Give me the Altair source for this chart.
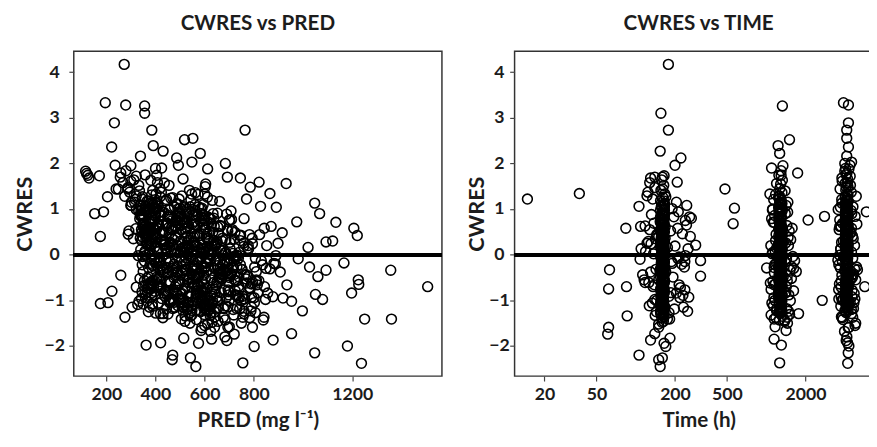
import altair as alt
import pandas as pd

# ---------------- observations read off the picture ----------------
# column at TIME ~ 160 h (with its side scatter)
a_cwres = [
    1.64, 1.52, 1.41, 1.33, 1.26, 1.18, 1.12, 1.05, 0.97, 0.91,
    0.85, 0.78, 0.72, 0.66, 0.61, 0.55, 0.49, 0.43, 0.38, 0.32,
    0.27, 0.21, 0.15, 0.10, 0.04, -0.02, -0.07, -0.13, -0.18, -0.24,
    -0.29, -0.35, -0.40, -0.46, -0.52, -0.57, -0.63, -0.69, -0.74, -0.80,
    -0.86, -0.91, -0.97, -1.03, -1.09, -1.15, -1.22, -1.29, -1.37, -1.46,
    1.47, 1.22, 1.01, 0.83, 0.69, 0.52, 0.35, 0.19, 0.02, -0.15,
    -0.32, -0.49, -0.66, -0.83, -1.00, -1.19, -1.33, 1.58, 1.15, 0.88,
    0.58, 0.29, -0.05, -0.38, -0.72, -1.06, -1.41, 1.37, 0.94, 0.46,
    0.07, -0.27, -0.61, -0.94, -1.25, 1.29, 0.75, 0.24, -0.21, -0.55,
    -0.89, -1.12, 1.08, 0.63, 0.13, -0.44, -0.77, -1.52, 0.40, -0.10,
    1.70, 1.44, 0.99, 0.57, 0.16, -0.35, -0.68, -1.01, -1.32, -1.48,
]
a_time = [
    158, 164, 156, 167, 161, 155, 166, 157, 163, 159,
    162, 165, 154, 159, 168, 155, 163, 160, 163, 157,
    164, 156, 160, 166, 158, 165, 156, 162, 157, 161,
    167, 154, 164, 159, 162, 166, 157, 159, 165, 156,
    164, 156, 163, 158, 160, 167, 155, 164, 158, 163,
    140, 135, 190, 196, 138, 185, 142, 200, 137, 188,
    143, 193, 139, 186, 145, 198, 141, 128, 205, 132,
    210, 125, 215, 130, 220, 134, 182, 124, 212, 228,
    119, 236, 126, 218, 144, 122, 240, 131, 225, 116,
    230, 127, 246, 118, 252, 113, 238, 150, 262, 108,
    160, 161, 165, 157, 163, 158, 162, 156, 164, 159,
]
a_pred = [
    312, 455, 538, 402, 611, 367, 489, 575, 341, 652,
    423, 508, 386, 597, 350, 470, 633, 398, 544, 361,
    702, 436, 519, 378, 588, 330, 481, 645, 412, 556,
    372, 690, 448, 527, 603, 355, 495, 738, 419, 566,
    640, 384, 512, 463, 595, 305, 548, 431, 676, 520,
    288, 346, 399, 458, 520, 382, 610, 560, 442, 679,
    752, 405, 573, 816, 470, 533, 622, 268, 315, 338,
    365, 427, 588, 662, 783, 411, 505, 295, 376, 352,
    407, 716, 538, 801, 583, 322, 393, 364, 475, 625,
    727, 598, 301, 360, 444, 770, 695, 612, 389, 567,
    257, 240, 357, 320, 396, 510, 560, 655, 548, 630,
]

# column at TIME ~ 1300 h
b_cwres = [
    1.45, 1.36, 1.27, 1.19, 1.11, 1.04, 0.96, 0.89, 0.82, 0.75,
    0.68, 0.62, 0.55, 0.49, 0.42, 0.36, 0.30, 0.23, 0.17, 0.11,
    0.05, -0.01, -0.07, -0.13, -0.19, -0.25, -0.31, -0.37, -0.43, -0.49,
    -0.55, -0.61, -0.67, -0.73, -0.79, -0.85, -0.91, -0.97, -1.03, -1.09,
    -1.15, -1.21, -1.28, -1.35, -1.43, 1.32, 1.08, 0.86, 0.64, 0.45,
    0.26, 0.08, -0.10, -0.28, -0.46, -0.64, -0.82, -1.00, -1.18, -1.38,
    1.55, 1.21, 0.93, 0.71, 0.38, 0.14, -0.16, -0.40, -0.70, -0.94,
    -1.24, 1.63, 1.00, 0.52, 0.02, -0.34, -0.58, -0.88, -1.12, -1.50,
    1.74, 1.40, 0.79, 0.33, -0.22, -0.52, -1.06, -1.31, 0.58, -0.76,
    1.84, 1.15, 0.20, -0.04, -0.62, -1.46, -1.58, -1.66, 0.98, -0.30,
]
b_time = [
    1270, 1320, 1250, 1305, 1290, 1245, 1325, 1260, 1310, 1255,
    1300, 1280, 1248, 1318, 1295, 1262, 1315, 1242, 1308, 1275,
    1298, 1252, 1322, 1265, 1292, 1246, 1312, 1258, 1302, 1285,
    1250, 1316, 1288, 1256, 1306, 1244, 1320, 1268, 1296, 1254,
    1304, 1282, 1266, 1328, 1262, 1180, 1420, 1160, 1440, 1190,
    1410, 1170, 1430, 1150, 1450, 1175, 1415, 1165, 1435, 1185,
    1290, 1140, 1460, 1130, 1470, 1200, 1400, 1155, 1425, 1145,
    1480, 1330, 1120, 1500, 1110, 1520, 1125, 1490, 1135, 1455,
    1250, 1395, 1100, 1540, 1160, 1560, 1105, 1510, 1580, 1090,
    1300, 1465, 1085, 1600, 1075, 1385, 1170, 1420, 1115, 1620,
]
b_pred = [
    418, 562, 347, 631, 485, 393, 707, 529, 452, 598,
    376, 664, 503, 431, 580, 338, 617, 471, 547, 409,
    686, 362, 524, 443, 605, 392, 568, 487, 721, 415,
    535, 461, 648, 371, 593, 507, 439, 762, 552, 328,
    476, 618, 401, 542, 683, 573, 300, 452, 663, 289,
    531, 358, 614, 446, 695, 497, 367, 585, 730, 430,
    604, 318, 434, 528, 349, 590, 458, 657, 413, 741,
    582, 381, 491, 292, 626, 523, 808, 398, 685, 540,
    405, 335, 760, 474, 673, 337, 514, 598, 842, 600,
    280, 302, 566, 718, 388, 654, 700, 585, 370, 849,
]

# column at TIME ~ 4100 h
c_cwres = [
    1.75, 1.66, 1.57, 1.49, 1.41, 1.33, 1.25, 1.17, 1.09, 1.01,
    0.94, 0.87, 0.80, 0.73, 0.66, 0.59, 0.52, 0.45, 0.38, 0.31,
    0.24, 0.17, 0.10, 0.03, -0.04, -0.11, -0.18, -0.25, -0.32, -0.39,
    -0.46, -0.53, -0.60, -0.67, -0.74, -0.81, -0.88, -0.95, -1.02, -1.09,
    -1.16, -1.24, 1.61, 1.37, 1.13, 0.90, 0.69, 0.48, 0.27, 0.06,
    -0.15, -0.36, -0.57, -0.78, -0.99, -1.20, 1.52, 1.21, 0.97, 0.62,
    0.41, 0.13, -0.08, -0.29, -0.50, -0.71, -0.92, -1.13, -1.29, 1.44,
    1.05, 0.76, 0.35, -0.01, -0.42, -0.64, -1.05, -1.60, -1.68, -1.80,
    1.89, 1.96, 0.55, 0.20, -0.22, -0.85, -1.36, 0.84, -0.55, -1.42,
    1.28, 0.99, 0.67, -0.12, -0.33, -0.76, -1.18, -1.88, 1.58, -0.97,
]
c_time = [
    4100, 4200, 4040, 4230, 4070, 4180, 4030, 4250, 4090, 4160,
    4050, 4240, 4120, 4035, 4210, 4080, 4190, 4045, 4220, 4110,
    4170, 4060, 4235, 4085, 4150, 4038, 4205, 4075, 4195, 4055,
    4245, 4095, 4165, 4042, 4215, 4065, 4185, 4052, 4225, 4105,
    4140, 4048, 3820, 4480, 3800, 4520, 3850, 4460, 3780, 4500,
    3830, 4440, 3760, 4550, 3810, 4490, 4420, 3790, 4470, 3740,
    4580, 3720, 4600, 3700, 4560, 3750, 4530, 3730, 4510, 3680,
    4620, 3660, 4640, 3650, 4680, 3640, 4700, 4250, 3980, 4150,
    4050, 4380, 3620, 4750, 3600, 4720, 3770, 4800, 4850, 3870,
    4900, 3560, 4950, 3540, 5000, 3590, 4660, 4100, 4200, 4780,
]
c_pred = [
    358, 512, 436, 602, 389, 547, 470, 661, 341, 583,
    495, 420, 637, 375, 558, 453, 710, 401, 526, 619,
    383, 574, 462, 681, 348, 535, 608, 427, 749, 491,
    566, 412, 651, 370, 520, 698, 447, 589, 333, 630,
    478, 612, 300, 424, 380, 498, 612, 355, 460, 545,
    412, 666, 388, 590, 502, 716, 332, 445, 560, 639,
    530, 595, 383, 472, 659, 322, 544, 606, 420, 288,
    541, 702, 310, 730, 575, 790, 458, 588, 624, 682,
    400, 493, 343, 777, 835, 486, 642, 519, 810, 566,
    275, 322, 450, 689, 615, 740, 677, 690, 408, 505,
]

# black core shared by the three columns and the PRED blob
d_cwres = [
    0.92, 0.41, -0.63, 0.17, -1.08, 0.68, -0.24, 1.03, -0.87, 0.29,
    -0.45, 0.81, -1.21, 0.05, 0.57, -0.71, 1.12, -0.12, 0.36, -0.96,
    0.74, -0.33, 0.12, -1.15, 0.49, -0.58, 0.96, -0.04, -0.79, 0.23,
    1.07, -0.51, 0.62, -1.27, 0.08, -0.19, 0.85, -0.92, 0.33, -0.66,
    0.47, -1.02, 0.71, -0.28, 0.15, -0.83, 0.99, -0.41, 0.26, -1.18,
    0.59, -0.07, -0.74, 0.88, -0.36, 0.20, -1.11, 0.66, -0.55, 0.02,
    0.79, -0.89, 0.38, -0.16, 1.15, -0.62, 0.10, -1.24, 0.53, -0.31,
    0.94, -0.48, 0.27, -0.99, 0.64, -0.22, -0.77, 0.44, -1.06, 0.13,
    1.01, -0.39, 0.56, -0.85, 0.19, -0.58, 0.83, -1.14, 0.31, -0.10,
    0.70, -0.68, 0.06, -0.94, 0.48, -0.26, 1.09, -0.53, 0.24, -1.30,
    0.61, -0.14, -0.81, 0.90, -0.43, 0.35, -1.00, 0.76, -0.35, 0.01,
    0.86, -0.72, 0.42, -0.20, 1.18, -0.60, 0.16, -1.19, 0.51, -0.29,
    0.97, -0.46, 0.30, -1.04, 0.67, -0.09, -0.75, 0.45, -0.97, 0.11,
    0.78, -0.38, 0.54, -0.88, 0.21, -0.64, 0.93, -1.10, 0.34, -0.18,
    0.63, -0.84, 0.09, -0.57, 0.40, -1.25, 1.05, -0.27, 0.28, -0.70,
    0.82, -0.11, -0.98, 0.58, -0.49, 0.18, -1.16, 0.73, -0.34, 0.04,
    0.89, -0.78, 0.37, -0.23, 1.10, -0.65, 0.14, -1.07, 0.50, -0.40,
    0.95, -0.52, 0.25, -0.91, 0.69, -0.15, -0.80, 0.43, -1.13, 0.07,
    0.72, -0.44, 0.60, -0.86, 0.22, -0.56, 0.87, -1.01, 0.32, -0.06,
    0.65, -0.73, 0.03, -0.95, 0.46, -0.30, 1.00, -0.61, 0.18, -1.22,
    0.55, -0.17, -0.82, 0.84, -0.42, 0.39, -1.05, 0.77, -0.37, -0.01,
    0.91, -0.67, 0.44, -0.25, 1.14, -0.54, 0.12, -1.17, 0.52, -0.32,
    0.99, -0.50, 0.29, -1.03, 0.60, -0.13, -0.76, 0.47, -0.93, 0.09,
    0.80, -0.36, 0.57, -0.90, 0.25, -0.59, 0.90, -1.12, 0.35, -0.21,
]
d_pred = [
    372, 560, 455, 610, 350, 493, 652, 398, 571, 441,
    597, 382, 528, 684, 355, 549, 408, 615, 467, 343,
    582, 429, 661, 376, 523, 728, 391, 585, 442, 648,
    360, 538, 467, 626, 502, 701, 339, 600, 423, 557,
    655, 366, 514, 603, 440, 667, 347, 545, 760, 470,
    389, 611, 566, 343, 676, 489, 598, 412, 721, 533,
    336, 624, 482, 570, 397, 770, 615, 513, 356, 662,
    426, 573, 399, 652, 535, 745, 474, 369, 607, 508,
    405, 682, 520, 358, 641, 456, 567, 694, 381, 582,
    488, 352, 635, 736, 418, 601, 390, 551, 794, 451,
    653, 505, 345, 587, 709, 402, 618, 484, 558, 386,
    598, 409, 742, 526, 373, 650, 511, 603, 425, 717,
    362, 554, 670, 477, 628, 395, 785, 571, 499, 340,
    626, 453, 362, 697, 532, 597, 415, 519, 720, 399,
    570, 384, 668, 492, 606, 371, 517, 803, 433, 633,
    348, 622, 564, 407, 739, 521, 654, 377, 588, 490,
    689, 459, 613, 388, 561, 484, 775, 630, 346, 506,
    539, 366, 647, 594, 448, 692, 397, 746, 510, 600,
    392, 667, 483, 566, 368, 724, 552, 460, 637, 416,
    507, 609, 354, 687, 456, 640, 529, 378, 758, 565,
    692, 419, 591, 503, 663, 363, 536, 709, 469, 626,
    401, 575, 782, 488, 380, 669, 447, 596, 694, 518,
    357, 700, 500, 615, 404, 576, 641, 364, 791, 477,
    589, 513, 395, 731, 552, 421, 634, 491, 382, 673,
]
d_time = [
    161, 1290, 4120, 158, 1310, 4200, 164, 1260, 4060, 157,
    1300, 4090, 163, 1270, 4230, 159, 1320, 4150, 162, 1250,
    4040, 165, 1295, 4180, 156, 1315, 4080, 160, 1265, 4240,
    166, 1305, 4110, 155, 1280, 4140, 164, 1255, 4210, 158,
    1320, 4070, 163, 1290, 4050, 161, 1275, 4190, 157, 1310,
    4100, 164, 1250, 4220, 156, 1300, 4085, 165, 1265, 4160,
    159, 1325, 4045, 166, 1285, 4205, 160, 1315, 4035, 163,
    1258, 4135, 157, 1298, 4245, 165, 1278, 4065, 158, 1318,
    4175, 162, 1248, 4105, 155, 1308, 4225, 161, 1272, 4040,
    164, 1322, 4145, 158, 1292, 4075, 166, 1262, 4215, 156,
    1312, 4095, 165, 1252, 4185, 159, 1302, 4055, 163, 1282,
    4155, 157, 1318, 4235, 164, 1256, 4070, 160, 1306, 4125,
    166, 1288, 4038, 161, 1268, 4198, 156, 1316, 4092, 164,
    1296, 4168, 157, 1246, 4052, 163, 1304, 4228, 160, 1266,
    4118, 165, 1324, 4048, 159, 1280, 4196, 162, 1300, 4148,
    155, 1310, 4082, 164, 1258, 4238, 160, 1290, 4042, 166,
    1270, 4188, 157, 1314, 4062, 163, 1250, 4172, 156, 1296,
    4212, 165, 1320, 4112, 162, 1276, 4034, 158, 1306, 4202,
    164, 1254, 4088, 157, 1298, 4158, 166, 1312, 4058, 159,
    1286, 4232, 163, 1260, 4128, 155, 1322, 4068, 164, 1294,
    4192, 160, 1248, 4046, 166, 1308, 4218, 157, 1278, 4108,
    163, 1316, 4142, 159, 1268, 4208, 165, 1300, 4072, 161,
    1252, 4242, 156, 1304, 4054, 164, 1264, 4164, 157, 1288,
    4098, 162, 1312, 4182, 160, 1258, 4078, 165, 1302, 4170,
]

# more of the black core
f_cwres = [
    1.24, -0.12, 0.58, -0.93, 0.31, -0.47, 0.86, -1.19, 0.07, -0.68,
    1.02, -0.29, 0.44, -1.06, 0.19, -0.55, 0.73, -0.83, 1.31, -0.02,
    0.62, -1.27, 0.35, -0.39, 0.91, -0.74, 0.14, -1.00, 0.49, -0.21,
    1.16, -0.61, 0.26, -0.88, 0.67, -0.33, 0.04, -1.13, 0.82, -0.51,
    0.39, -0.96, 1.08, -0.16, 0.55, -0.79, 0.22, -1.22, 0.95, -0.43,
    0.11, -0.70, 0.77, -0.26, 1.27, -1.03, 0.46, -0.58, 0.17, -0.90,
    0.69, -0.36, 1.05, -1.16, 0.28, -0.64, 0.88, -0.08, 0.52, -1.09,
    0.33, -0.81, 1.20, -0.48, 0.01, -0.98, 0.64, -0.24, 0.96, -1.25,
    0.42, -0.66, 0.13, -0.86, 1.12, -0.31, 0.58, -1.04, 0.80, -0.14,
    0.24, -0.75, 0.99, -0.42, 0.70, -1.18, 0.06, -0.57, 1.29, -0.91,
    0.50, -0.19, 0.84, -1.11, 0.36, -0.72, 1.10, -0.37, 0.15, -0.99,
    0.76, -0.53, 0.29, -0.84, 1.03, -0.05, 0.60, -1.21, 0.41, -0.62,
    0.94, -0.27, 0.18, -0.94, 0.66, -0.45, 1.18, -0.77, 0.09, -1.08,
    0.57, -0.34, 0.87, -1.14, 0.32, -0.60, 1.07, -0.11, 0.74, -0.87,
    0.20, -0.50, 0.98, -1.02, 0.45, -0.22, 1.22, -0.69, 0.03, -0.80,
]
f_pred = [
    462, 395, 528, 610, 343, 575, 418, 646, 503, 377,
    589, 447, 364, 532, 629, 406, 558, 480, 384, 672,
    357, 541, 612, 430, 497, 368, 585, 455, 723, 519,
    402, 636, 375, 568, 444, 696, 521, 388, 615, 475,
    554, 425, 338, 662, 596, 510, 438, 579, 361, 705,
    617, 392, 485, 547, 419, 633, 366, 590, 458, 534,
    349, 608, 477, 514, 651, 382, 571, 737, 428, 600,
    686, 452, 544, 371, 625, 493, 409, 561, 332, 640,
    578, 414, 703, 502, 386, 653, 465, 530, 599, 355,
    436, 584, 367, 692, 518, 445, 617, 396, 507, 565,
    621, 379, 490, 546, 672, 423, 594, 350, 537, 471,
    398, 666, 557, 432, 512, 727, 374, 605, 481, 548,
    526, 410, 643, 359, 592, 499, 441, 681, 567, 387,
    604, 474, 352, 620, 535, 697, 411, 552, 465, 582,
    383, 660, 456, 523, 609, 346, 496, 572, 714, 439,
]
f_time = [
    4150, 160, 1285, 4065, 163, 1305, 4215, 158, 1270, 4120,
    165, 1295, 4045, 157, 1315, 4190, 162, 1255, 4230, 159,
    1300, 4100, 164, 1275, 4160, 156, 1320, 4080, 161, 1260,
    4205, 166, 1290, 4040, 158, 1310, 4135, 163, 1250, 4240,
    160, 1280, 4070, 165, 1325, 4175, 157, 1265, 4095, 162,
    1305, 4220, 159, 1245, 4050, 164, 1295, 4145, 156, 1318,
    4110, 161, 1272, 4200, 166, 1308, 4060, 158, 1288, 4180,
    163, 1258, 4125, 155, 1302, 4235, 160, 1278, 4085, 165,
    1312, 4165, 157, 1266, 4038, 162, 1294, 4210, 159, 1250,
    4090, 164, 1320, 4140, 156, 1284, 4225, 161, 1262, 4058,
    166, 1306, 4185, 158, 1276, 4115, 163, 1298, 4044, 160,
    1254, 4195, 165, 1314, 4076, 157, 1268, 4238, 162, 1292,
    4130, 159, 1248, 4032, 164, 1322, 4170, 156, 1282, 4102,
    161, 1310, 4222, 166, 1264, 4056, 158, 1296, 4152, 163,
    1274, 4092, 155, 1316, 4204, 160, 1256, 4068, 165, 1300,
]

# the looser band at PRED 700-920
e_cwres = [
    0.55, 0.31, 0.12, -0.08, -0.26, -0.44, -0.61, -0.79, -0.97, -1.15,
    -1.32, -1.50, 0.44, 0.20, -0.03, -0.19, -0.37, -0.53, -0.70, -0.88,
    -1.05, -1.24, -1.43, 0.62, 0.36, 0.05, -0.31, -0.66, -1.01, -1.38,
    0.25, -0.13, -0.48, -0.84, -1.19, 0.48, -0.02, -0.57, -0.92, -1.27,
]
e_pred = [
    712, 745, 778, 806, 731, 762, 795, 724, 757, 790,
    718, 749, 823, 852, 735, 881, 810, 768, 843, 727,
    802, 760, 838, 870, 793, 740, 865, 814, 748, 783,
    898, 830, 776, 856, 742, 915, 889, 820, 877, 806,
]
e_time = [
    128, 1180, 3720, 210, 1560, 4620, 118, 1620, 3600, 232,
    1090, 4850, 145, 1480, 3900, 190, 1700, 4480, 136, 1240,
    4300, 250, 1380, 3660, 168, 1120, 4750, 215, 1530, 3820,
    122, 1650, 4570, 205, 1200, 4400, 240, 1450, 3750, 180,
]

# scattered observations
o_cwres = [
    4.17, 3.33, 3.28, 3.26, 3.10, 2.89, 2.73, 2.73, 2.52, 2.55,
    2.39, 2.36, 2.27, 2.22, 2.16, 2.12, 2.03, 2.00, 1.96, 1.95,
    1.90, 1.88, 1.83, 1.79, 1.73, 1.72, 1.70, 1.68, 1.68, 1.59,
    1.56, 1.48, 1.44, 1.34, 1.33, 1.27, 1.22, 1.13, 1.06, 1.04,
    1.02, 0.94, 0.90, 0.90, 0.84, 0.83, 0.80, 0.76, 0.72, 0.71,
    0.68, 0.65, 0.62, 0.58, 0.58, 0.42, 0.40, 0.30, 0.28, 0.21,
    0.16, 0.13, -0.09, -0.13, -0.15, -0.18, -0.20, -0.27, -0.29, -0.33,
    -0.34, -0.34, -0.38, -0.45, -0.47, -0.48, -0.55, -0.65, -0.66, -0.70,
    -0.70, -0.75, -0.80, -0.84, -0.87, -0.91, -0.93, -0.95, -0.98, -0.98,
    -1.00, -1.02, -1.05, -1.07, -1.23, -1.23, -1.29, -1.34, -1.37, -1.37,
    -1.37, -1.41, -1.41, -1.55, -1.59, -1.59, -1.59, -1.73, -1.74, -1.83,
    -1.85, -1.87, -1.93, -1.94, -1.98, -2.00, -2.01, -2.15, -2.20, -2.26,
    -2.30, -2.37, -2.38, -2.45, 1.78, 1.74,
]
o_pred = [
    273, 196, 279, 356, 356, 233, 385, 764, 518, 552,
    391, 222, 431, 582, 339, 486, 548, 684, 236, 300,
    425, 612, 116, 259, 172, 322, 692, 130, 745, 821,
    931, 785, 249, 865, 600, 205, 770, 1047, 827, 891,
    500, 189, 153, 1067, 400, 450, 620, 700, 974, 1133,
    550, 350, 480, 1206, 380, 1220, 176, 1120, 1093, 640,
    1020, 530, 980, 720, 460, 1166, 887, 1026, 600, 420,
    1093, 1356, 907, 259, 560, 1060, 1224, 1226, 934, 1506,
    480, 380, 223, 1197, 1050, 755, 650, 918, 1079, 847,
    700, 953, 207, 176, 997, 788, 760, 520, 276, 755,
    841, 1250, 1359, 600, 694, 794, 640, 953, 720, 515,
    628, 878, 421, 575, 362, 1180, 801, 1047, 470, 542,
    468, 755, 1237, 564, 120, 125,
]
o_time = [
    178, 3909, 4266, 1330, 156, 4266, 178, 4140, 1508, 4140,
    1233, 4266, 154, 1268, 4140, 222, 4510, 4000, 200, 1343,
    1099, 4300, 4000, 1741, 165, 4400, 140, 130, 3800, 208,
    1200, 4100, 483, 37, 1067, 170, 14.8, 1300, 106, 3700,
    571, 5850, 160, 1400, 2797, 259, 267, 2094, 4000, 1150,
    558, 245, 109, 4500, 84, 1250, 150, 3900, 1350, 288,
    175, 110, 4200, 314, 238, 1200, 160, 4920, 1007, 63,
    4000, 1300, 170, 3800, 314, 1350, 150, 4300, 1150, 5690,
    85, 62, 165, 1400, 4100, 180, 255, 1250, 3900, 140,
    2686, 1300, 4400, 155, 1200, 4000, 1770, 86, 165, 1450,
    4600, 175, 1150, 4790, 4300, 150, 62, 140, 61, 183,
    1149, 130, 4200, 165, 1306, 4300, 170, 4250, 106, 160,
    150, 1268, 4210, 154, 4150, 1300,
]

# axis ticks and ranges
cwres_ticks = [-2, -1, 0, 1, 2, 3, 4]
pred_ticks = [200, 400, 600, 800, 1200]
time_ticks = [20, 50, 200, 500, 2000]
cwres_range = [-2.66, 4.46]
pred_range = [68, 1564]
time_range = [11.8, 7814]

df = pd.DataFrame({
    "CWRES": a_cwres + b_cwres + c_cwres + d_cwres + f_cwres + e_cwres + o_cwres,
    "PRED": a_pred + b_pred + c_pred + d_pred + f_pred + e_pred + o_pred,
    "TIME": a_time + b_time + c_time + d_time + f_time + e_time + o_time,
})

FONT = "Lato"
INK = "#1c1c1c"
PLOT_H = 331


def panel(xfield, xscale, xaxis, title, width, label_pad, title_pad):
    yenc = alt.Y(
        "CWRES:Q",
        scale=alt.Scale(domain=cwres_range, nice=False, zero=False),
        axis=alt.Axis(values=cwres_ticks, title="CWRES", labelAlign="center",
                      labelPadding=label_pad, titlePadding=title_pad,
                      titleFontSize=22),
    )
    pts = alt.Chart(df).mark_point(
        shape="circle", filled=False, size=100, color="black",
        strokeWidth=1.6, opacity=1, clip=True,
    ).encode(x=alt.X(xfield, scale=xscale, axis=xaxis), y=yenc)
    zero = alt.Chart(df).mark_rule(color="black", strokeWidth=3.5).encode(
        y=alt.datum(0)
    )
    return alt.layer(pts, zero).properties(
        width=width, height=PLOT_H,
        title=alt.TitleParams(title, font=FONT, fontSize=21, fontWeight="bold",
                              color=INK, anchor="middle", offset=18),
    )


left = panel(
    "PRED:Q",
    alt.Scale(domain=pred_range, nice=False, zero=False),
    alt.Axis(values=pred_ticks, format="d", title="PRED (mg l⁻¹)",
             labelPadding=5, titlePadding=6, titleFontSize=21),
    "CWRES vs PRED", 375, 15, 8,
)
right = panel(
    "TIME:Q",
    alt.Scale(type="log", domain=time_range, nice=False),
    alt.Axis(values=time_ticks, format="d", title="Time (h)",
             labelPadding=5, titlePadding=6, titleFontSize=21),
    "CWRES vs TIME", 375, 11, 0,
)

chart = alt.hconcat(left, right, spacing=20).properties(
    padding={"left": 4, "top": 0, "right": -17, "bottom": 0}
).configure_view(
    stroke="#333333", strokeWidth=1.5
).configure_axis(
    labelFont=FONT, labelFontSize=18, labelFontWeight="bold", labelColor=INK,
    titleFont=FONT, titleFontWeight="bold", titleColor=INK,
    tickColor="#444444", tickSize=5, tickWidth=1.2, domain=False, grid=False,
)

chart.save("out.html", embed_options={"renderer": "svg", "actions": False})
